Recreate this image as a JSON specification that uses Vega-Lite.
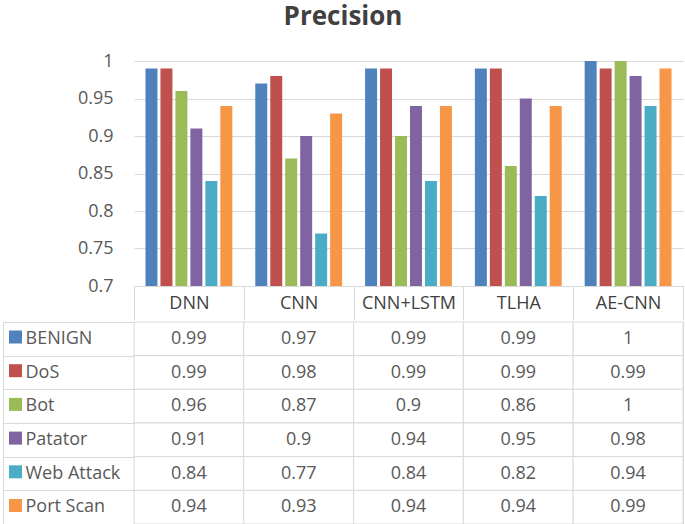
{
  "$schema": "https://vega.github.io/schema/vega-lite/v6.json",
  "padding": {"left": 2, "right": 3, "top": 4, "bottom": 1},
  "title": {"text": "Precision", "fontSize": 26, "font": "Open Sans", "fontWeight": "bold", "color": "#404040", "anchor": "middle", "frame": "bounds", "offset": 22},
  "data": {"values": [
    {"model": "DNN", "series": "BENIGN", "value": 0.99},
    {"model": "DNN", "series": "DoS", "value": 0.99},
    {"model": "DNN", "series": "Bot", "value": 0.96},
    {"model": "DNN", "series": "Patator", "value": 0.91},
    {"model": "DNN", "series": "Web Attack", "value": 0.84},
    {"model": "DNN", "series": "Port Scan", "value": 0.94},
    {"model": "CNN", "series": "BENIGN", "value": 0.97},
    {"model": "CNN", "series": "DoS", "value": 0.98},
    {"model": "CNN", "series": "Bot", "value": 0.87},
    {"model": "CNN", "series": "Patator", "value": 0.9},
    {"model": "CNN", "series": "Web Attack", "value": 0.77},
    {"model": "CNN", "series": "Port Scan", "value": 0.93},
    {"model": "CNN+LSTM", "series": "BENIGN", "value": 0.99},
    {"model": "CNN+LSTM", "series": "DoS", "value": 0.99},
    {"model": "CNN+LSTM", "series": "Bot", "value": 0.9},
    {"model": "CNN+LSTM", "series": "Patator", "value": 0.94},
    {"model": "CNN+LSTM", "series": "Web Attack", "value": 0.84},
    {"model": "CNN+LSTM", "series": "Port Scan", "value": 0.94},
    {"model": "TLHA", "series": "BENIGN", "value": 0.99},
    {"model": "TLHA", "series": "DoS", "value": 0.99},
    {"model": "TLHA", "series": "Bot", "value": 0.86},
    {"model": "TLHA", "series": "Patator", "value": 0.95},
    {"model": "TLHA", "series": "Web Attack", "value": 0.82},
    {"model": "TLHA", "series": "Port Scan", "value": 0.94},
    {"model": "AE-CNN", "series": "BENIGN", "value": 1},
    {"model": "AE-CNN", "series": "DoS", "value": 0.99},
    {"model": "AE-CNN", "series": "Bot", "value": 1},
    {"model": "AE-CNN", "series": "Patator", "value": 0.98},
    {"model": "AE-CNN", "series": "Web Attack", "value": 0.94},
    {"model": "AE-CNN", "series": "Port Scan", "value": 0.99}
  ]},
  "spacing": 0,
  "vconcat": [
    {
      "width": 549,
      "height": 225,
      "view": {"stroke": null},
      "mark": {"type": "bar", "clip": true},
      "encoding": {
        "x": {"field": "model", "type": "nominal", "sort": ["DNN", "CNN", "CNN+LSTM", "TLHA", "AE-CNN"],
          "scale": {"paddingInner": 0, "paddingOuter": 0},
          "axis": {"title": null, "orient": "bottom", "labelAngle": 0, "tickBand": "extent", "tickSize": 34, "tickColor": "#d9d9d9", "domainColor": "#d9d9d9", "labelPadding": -17, "labelBaseline": "middle", "labelFontSize": 18, "labelColor": "#404040", "labelFont": "Open Sans"}},
        "xOffset": {"field": "series", "type": "nominal", "sort": ["BENIGN", "DoS", "Bot", "Patator", "Web Attack", "Port Scan"],
          "scale": {"paddingInner": 0.2, "paddingOuter": 0.767}},
        "y": {"field": "value", "type": "quantitative", "scale": {"domain": [0.7, 1], "zero": false, "nice": false},
          "axis": {"title": null, "values": [0.7, 0.75, 0.8, 0.85, 0.9, 0.95, 1], "format": "~g", "grid": true, "gridColor": "#d9d9d9", "domain": false, "ticks": false, "labelPadding": 21, "labelFontSize": 18, "labelColor": "#595959", "labelFont": "Open Sans", "minExtent": 131, "maxExtent": 131}},
        "y2": {"datum": 0.7},
        "color": {"field": "series", "type": "nominal",
          "scale": {"domain": ["BENIGN", "DoS", "Bot", "Patator", "Web Attack", "Port Scan"], "range": ["#4f81bd", "#c0504d", "#9bbb59", "#8064a2", "#4bacc6", "#f79646"]},
          "legend": {"orient": "none", "legendX": -125, "legendY": 269.5, "title": null, "symbolType": "square", "symbolSize": 169, "symbolStrokeWidth": 0, "symbolOpacity": 1, "labelExpr": "''", "labelFontSize": 1, "labelOffset": 0, "rowPadding": 20.7, "padding": 0, "offset": 0}}
      }
    },
    {
      "width": 549,
      "height": 202,
      "encoding": {
        "x": {"field": "model", "type": "nominal", "sort": ["DNN", "CNN", "CNN+LSTM", "TLHA", "AE-CNN"],
          "scale": {"paddingInner": 0, "paddingOuter": 0}, "axis": null},
        "y": {"field": "series", "type": "nominal", "sort": ["BENIGN", "DoS", "Bot", "Patator", "Web Attack", "Port Scan"]}
      },
      "layer": [
        {
          "mark": {"type": "rect", "fill": "#ffffff", "stroke": "#d9d9d9", "strokeWidth": 1},
          "encoding": {
            "y": {"field": "series", "type": "nominal", "sort": ["BENIGN", "DoS", "Bot", "Patator", "Web Attack", "Port Scan"],
              "axis": {"title": null, "orient": "right", "offset": -680, "grid": false, "labels": false, "domain": true, "domainColor": "#d9d9d9", "ticks": true, "tickSize": 131, "tickColor": "#d9d9d9", "tickBand": "extent", "minExtent": 0}}
          }
        },
        {
          "mark": {"type": "text", "fontSize": 18, "color": "#595959", "font": "Open Sans"},
          "encoding": {
            "y": {"field": "series", "type": "nominal", "sort": ["BENIGN", "DoS", "Bot", "Patator", "Web Attack", "Port Scan"],
              "axis": {"title": null, "orient": "left", "grid": false, "domain": false, "ticks": false, "labelAlign": "left", "labelPadding": 109, "labelFontSize": 18, "labelColor": "#595959", "labelFont": "Open Sans", "minExtent": 0}},
            "text": {"field": "value", "type": "quantitative", "format": "~g"}
          }
        }
      ],
      "resolve": {"axis": {"y": "independent"}}
    }
  ],
  "config": {
    "font": "Open Sans",
    "view": {"stroke": "#d9d9d9"},
    "axis": {"gridOpacity": 1}
  }
}
